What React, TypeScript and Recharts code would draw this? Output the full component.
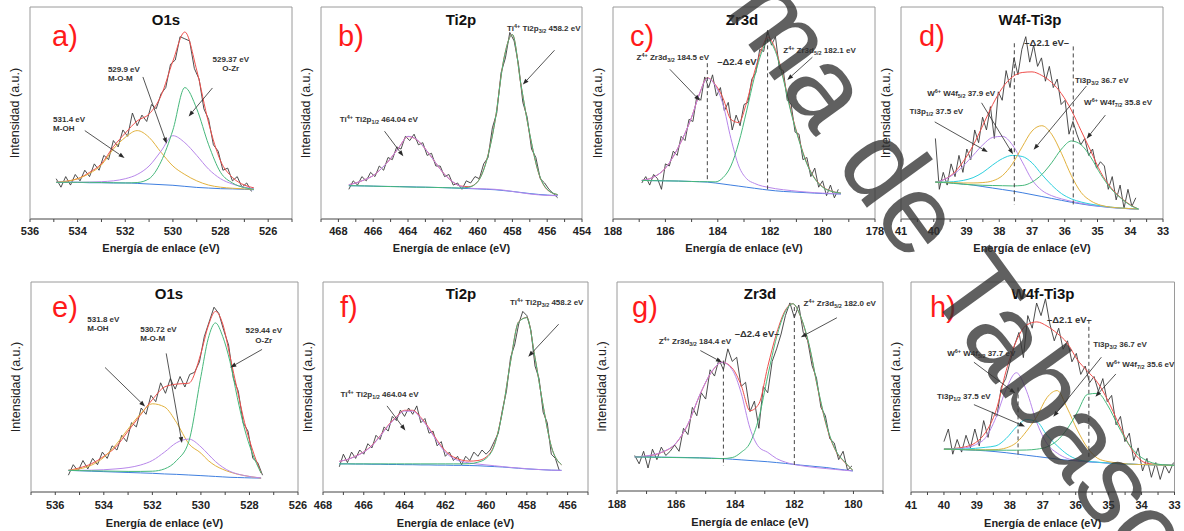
import React from "react";
import { LineChart, Line, XAxis, YAxis, ReferenceLine, ReferenceDot } from "recharts";

// Eight XPS panels (a–h): raw scan (noisy black), fitted envelope (red),
// Shirley-type background (blue) and the individual component peaks.
// Intensity is in arbitrary units, expressed as % of the plot height.

const FONT = "Arial, 'Liberation Sans', Helvetica, sans-serif";

const COLORS = {
  raw: "#3a3a3a",
  fit: "#ef4f4c",
  bg: "#3f7fe0",
  green: "#46b87b",
  purple: "#b887ea",
  orange: "#e2b23e",
  cyan: "#2dd0de",
} as const;

// ---------- a) O1s ----------
const A_E = [534.9, 534, 533.5, 533, 532.5, 532, 531.5, 531, 530.5, 530, 529.5, 529, 528.5, 528, 527.5, 527, 526.6];
const A_BG = [17.3, 17.3, 17.1, 17.1, 17.0, 17.0, 16.8, 16.5, 16.2, 15.9, 15.4, 14.9, 14.6, 14.3, 14.2, 14.0, 13.8];
const A_MOH = [17.3, 19, 21.5, 25.5, 33, 38.5, 41.7, 38.5, 31.5, 25, 21, 18, 16, 15, 14.5, 14.2, 14];
const A_MOM = [17.3, 17.3, 17.4, 17.6, 18, 19, 21, 25, 32, 39.3, 36, 30, 23.5, 19, 16.5, 15, 14.3];
const A_OZR = [17.3, 17.3, 17.3, 17.2, 17.1, 17.0, 17.2, 19, 27, 42, 62, 52, 35, 22, 17, 14.8, 14];
const A_FIT = [17.3, 19, 22, 26.1, 34.1, 40.5, 46.3, 49.5, 58.1, 74.5, 88.2, 70.2, 45.3, 27.4, 19.6, 16, 14.7];
const A_RAW_START = 534.9;
const A_RAW_STEP = 0.2;
const A_RAW = [19, 15, 20, 16, 21, 18, 23, 20, 26, 23, 30, 28, 37, 34, 42, 39, 50, 44, 49, 46, 54, 52, 59, 62, 73, 75, 86, 85, 84, 71, 66, 52, 47, 35, 32, 23, 24, 18, 20, 15, 17, 13];

// ---------- b) Ti2p ----------
const B_E = [467.4, 467, 466.5, 466, 465.5, 465, 464.5, 464, 463.5, 463, 462.5, 462, 461.5, 461, 460.5, 460, 459.5, 459, 458.5, 458, 457.5, 457, 456.5, 456, 455.4];
const B_BG = [15.7, 15.65, 15.6, 15.5, 15.4, 15.35, 15.3, 15.2, 15.1, 15.0, 14.9, 14.8, 14.65, 14.5, 14.35, 14.2, 14.0, 13.8, 13.4, 13.0, 12.5, 12.0, 11.6, 11.3, 11.0];
const B_P12 = [16.2, 17, 18.5, 20.5, 24, 28.5, 34, 39, 37.5, 33, 27.5, 22, 18, 15.5, 14.6, 14.3, 14.2, 14.0, 13.6, 13.0, 12.4, 11.8, 11.4, 11.1, 11];
const B_P32 = [15.7, 15.7, 15.6, 15.5, 15.4, 15.3, 15.2, 15.1, 15.0, 15.0, 14.9, 14.8, 14.7, 14.6, 15, 17.5, 27, 46, 75, 87, 63, 40, 22, 14, 11.5];
const B_FIT = [16.2, 17, 18.5, 20.5, 24, 28.5, 34, 38.9, 37.4, 33, 27.5, 22, 18, 15.6, 15.25, 17.6, 27.2, 46.2, 75.2, 87, 62.9, 39.8, 21.8, 13.8, 11.5];
const B_RAW_START = 467.4;
const B_RAW_STEP = 0.25;
const B_RAW = [14, 18, 16, 20, 18, 22, 20, 25, 23, 29, 28, 34, 33, 39, 37, 40, 35, 36, 30, 31, 25, 25, 20, 21, 16, 17, 14, 18, 17, 20, 19, 26, 29, 43, 50, 69, 76, 88, 84, 73, 55, 48, 33, 29, 19, 17, 14, 12, 10];

// ---------- c) Zr3d ----------
const C_E = [186.9, 186.5, 186, 185.5, 185, 184.7, 184.4, 184.1, 183.8, 183.5, 183.2, 182.9, 182.6, 182.3, 182.1, 181.8, 181.5, 181.2, 180.9, 180.6, 180.3, 180, 179.6, 179.3];
const C_BG = [18.2, 18.1, 18.0, 17.9, 17.7, 17.6, 17.4, 17.0, 16.5, 16.0, 15.5, 15.0, 14.5, 14.0, 13.7, 13.3, 13.0, 12.8, 12.6, 12.4, 12.2, 12.0, 11.9, 11.8];
const C_D32 = [18.2, 19.5, 24, 34, 48, 59, 66.4, 63, 54, 38, 25, 19, 16.8, 15.5, 15, 14.3, 13.8, 13.4, 13, 12.7, 12.4, 12.2, 12, 11.8];
const C_D52 = [18.2, 18.1, 18, 17.9, 17.7, 17.6, 17.6, 17.5, 19.5, 25, 36, 51, 67, 79.5, 84.5, 79, 66, 50, 37, 26, 19, 15, 12.8, 12.2];
const C_FIT = [18.2, 19.5, 24, 34, 48, 59, 66.6, 63.5, 57, 47, 45.5, 55, 69.3, 81, 85.8, 80, 66.8, 50.6, 37.4, 26.3, 19.2, 15.2, 12.9, 12.2];
const C_RAW_START = 186.9;
const C_RAW_STEP = 0.15;
const C_RAW = [17, 20, 16, 21, 19, 14, 26, 25, 32, 30, 39, 37, 47, 46, 58, 56, 67, 62, 68, 58, 62, 51, 55, 42, 49, 44, 54, 55, 66, 69, 80, 79, 89, 82, 86, 71, 70, 56, 54, 41, 40, 28, 29, 20, 24, 15, 18, 11, 16, 10, 14];

// ---------- d) W4f-Ti3p ----------
const D_E = [39.95, 39.7, 39.4, 39.1, 38.8, 38.5, 38.2, 37.9, 37.6, 37.3, 37.0, 36.7, 36.4, 36.1, 35.8, 35.5, 35.2, 34.9, 34.6, 34.3, 34.0, 33.75];
const D_BG = [17.4, 17.3, 17.0, 16.5, 16, 15.3, 14.6, 13.9, 13.2, 12.4, 11.5, 10.6, 9.7, 8.8, 7.9, 7.1, 6.4, 5.9, 5.4, 5.1, 4.8, 4.7];
const D_W52 = [17.4, 18.5, 21, 25, 30, 35, 38.5, 39, 35, 27, 18.5, 13.5, 11, 9.5, 8.3, 7.4, 6.6, 6, 5.5, 5.1, 4.8, 4.7];
const D_TI12 = [17.4, 17.4, 17.6, 18.2, 19.5, 22, 25.5, 28.5, 30, 29.5, 26.5, 21, 16, 12, 9.5, 8, 7, 6.2, 5.6, 5.2, 4.9, 4.7];
const D_TI32 = [17.4, 17.3, 17.1, 17, 17, 17.2, 18, 20.5, 26, 34, 41.5, 44, 40, 31, 20.5, 12.5, 8.5, 6.5, 5.6, 5.2, 4.9, 4.7];
const D_W72 = [17.4, 17.2, 16.8, 16.4, 16.1, 15.9, 15.8, 15.7, 15.6, 15.8, 17.4, 21, 26.5, 33, 36.8, 35, 29, 21, 14.5, 10, 6.5, 4.7];
const D_FIT = [17.4, 18.5, 21.5, 27.1, 34.6, 44.2, 54, 62, 67, 69.1, 69.4, 67.7, 64.4, 59.1, 51.4, 41.6, 31.9, 22, 15, 10.2, 6.7, 4.7];
const D_RAW_START = 39.95;
const D_RAW_STEP = 0.12;
const D_RAW = [38, 14, 22, 16, 26, 20, 30, 22, 33, 28, 42, 36, 48, 42, 53, 38, 60, 56, 70, 62, 76, 68, 80, 86, 74, 82, 72, 76, 65, 72, 62, 66, 54, 56, 40, 46, 40, 35, 38, 30, 33, 24, 27, 25, 14, 20, 9, 16, 5, 14, 6, 10];

// ---------- e) O1s ----------
const E_E = [535.46, 535, 534.5, 534, 533.5, 533, 532.5, 532, 531.5, 531, 530.5, 530, 529.7, 529.4, 529.1, 528.8, 528.5, 528.2, 527.9, 527.52];
const E_BG = [10.3, 10.1, 9.9, 9.7, 9.5, 9.3, 9.1, 8.9, 8.6, 8.4, 8.1, 7.8, 7.6, 7.4, 7.2, 7.0, 6.9, 6.8, 6.7, 6.6];
const E_MOH = [10.3, 11, 12.8, 16.5, 22.5, 30, 37, 42, 40.5, 33, 23, 18.5, 15, 12.5, 10.8, 9.5, 8.5, 7.8, 7.2, 6.6];
const E_MOM = [10.3, 10.3, 10.4, 10.6, 11, 11.6, 12.8, 15, 19, 23.5, 25.2, 21.5, 18, 14.5, 11.8, 9.8, 8.6, 7.8, 7.2, 6.7];
const E_OZR = [10.3, 10.2, 10.1, 10, 9.9, 9.8, 9.8, 9.9, 11, 15, 24, 55, 73, 80.5, 74, 62, 45, 30, 19, 9];
const E_FIT = [10.3, 11.5, 13.5, 17, 21.5, 29, 36.5, 44, 50, 51.4, 51.8, 66, 79, 86, 80, 64.5, 48.5, 33, 21, 9];
const E_RAW_START = 535.46;
const E_RAW_STEP = 0.2;
const E_RAW = [8, 13, 10, 15, 11, 16, 13, 19, 16, 22, 20, 27, 24, 33, 31, 40, 37, 46, 43, 52, 47, 54, 49, 55, 50, 56, 57, 62, 74, 81, 88, 85, 77, 70, 54, 48, 33, 29, 16, 14, 8];

// ---------- f) Ti2p ----------
const F_E = [467.2, 466.8, 466.4, 466, 465.6, 465.2, 464.8, 464.4, 464, 463.6, 463.2, 462.8, 462.4, 462, 461.6, 461.2, 460.8, 460.4, 460, 459.6, 459.2, 458.8, 458.4, 458, 457.6, 457.2, 456.8, 456.3];
const F_BG = [13.4, 13.4, 13.3, 13.3, 13.2, 13.2, 13.1, 13.1, 13.0, 13.0, 12.9, 12.9, 12.8, 12.8, 12.7, 12.7, 12.6, 12.5, 12.3, 12.1, 11.9, 11.6, 11.3, 11, 10.8, 10.6, 10.4, 10.3];
const F_P12 = [14.6, 15.5, 17, 19, 22, 26.5, 31.5, 35.5, 38.5, 38.5, 35, 30, 24, 19, 16, 14.5, 13.8, 13.3, 12.9, 12.5, 12.1, 11.7, 11.4, 11.1, 10.8, 10.6, 10.4, 10.3];
const F_P32 = [13.4, 13.4, 13.4, 13.4, 13.4, 13.4, 13.4, 13.4, 13.4, 13.4, 13.4, 13.4, 13.4, 13.4, 13.4, 13.4, 13.5, 14.2, 16, 22, 38, 62, 81, 83, 64, 41, 21.7, 13];
const F_FIT = [14.6, 15.5, 17.1, 19.1, 22.2, 26.7, 31.8, 35.8, 38.9, 38.9, 35.5, 30.5, 24.6, 19.6, 16.7, 15.2, 14.7, 15, 16.6, 22.4, 38.2, 62.1, 81.1, 83.1, 64, 41, 21.7, 13];
const F_RAW_START = 467.2;
const F_RAW_STEP = 0.2;
const F_RAW = [12, 18, 14, 19, 16, 20, 18, 23, 21, 27, 25, 31, 29, 36, 34, 39, 36, 40, 37, 41, 33, 35, 28, 29, 22, 24, 17, 19, 15, 17, 13, 17, 15, 19, 17, 20, 18, 20, 24, 28, 39, 48, 64, 70, 80, 86, 84, 77, 60, 54, 38, 33, 18, 16, 10];

// ---------- g) Zr3d ----------
const G_E = [187.4, 187, 186.5, 186, 185.6, 185.2, 184.8, 184.45, 184.1, 183.8, 183.5, 183.2, 182.9, 182.6, 182.3, 182.05, 181.8, 181.5, 181.2, 180.9, 180.6, 180.3, 180.02];
const G_BG = [16.3, 16.3, 16.2, 16.1, 16, 15.9, 15.7, 15.5, 15.2, 14.9, 14.6, 14.3, 14, 13.6, 13.2, 12.8, 12.4, 12, 11.6, 11.2, 10.6, 10.1, 9.6];
const G_D32 = [16.3, 16.8, 18.5, 23, 32, 46, 57, 61.6, 58, 47, 30, 21, 18.5, 15.5, 13.8, 12.8, 12.2, 11.6, 11.1, 10.7, 10.3, 9.9, 9.6];
const G_D52 = [16.3, 16.2, 16.1, 16, 15.9, 15.8, 15.6, 15.5, 16, 18.5, 23, 35, 55, 73.6, 86, 89.6, 84, 70, 49, 31, 19.5, 14, 9.9];
const G_FIT = [16.3, 16.7, 18.4, 22.9, 31.9, 45.9, 56.9, 61.6, 58.8, 50.6, 38.4, 41.7, 59.5, 75.5, 86.6, 89.6, 83.8, 69.6, 48.5, 30.5, 19.2, 13.8, 9.9];
const G_RAW_START = 187.4;
const G_RAW_STEP = 0.15;
const G_RAW = [17, 13, 19, 11, 20, 15, 21, 17, 19, 22, 19, 30, 27, 40, 36, 47, 44, 58, 55, 63, 58, 68, 62, 64, 50, 52, 38, 43, 30, 50, 47, 62, 68, 75, 84, 90, 83, 89, 76, 72, 60, 54, 40, 36, 25, 23, 15, 19, 10, 12];

// ---------- h) W4f-Ti3p ----------
const H_E = [40.0, 39.66, 39.35, 39.04, 38.73, 38.42, 38.11, 37.8, 37.49, 37.18, 36.87, 36.56, 36.26, 35.95, 35.64, 35.33, 35.02, 34.71, 34.4, 34.09, 33.78, 33.37, 33.0];
const H_BG = [20.4, 20.3, 20.1, 19.9, 19.6, 19.2, 18.7, 18.1, 17.5, 16.9, 16.3, 15.7, 15.2, 14.8, 14.4, 14.1, 13.8, 13.5, 13.3, 13.1, 13, 12.8, 12.7];
const H_W52 = [20.4, 20.5, 21, 22.5, 26, 35.5, 49, 56.8, 48, 33, 23, 18.5, 16, 14.9, 14.4, 14.1, 13.8, 13.5, 13.3, 13.1, 13, 12.8, 12.7];
const H_TI12 = [20.4, 20.4, 20.5, 20.8, 21.3, 22, 25.5, 31, 34.5, 33.5, 27, 22, 18, 15.5, 14.6, 14.2, 13.8, 13.5, 13.3, 13.1, 13, 12.8, 12.7];
const H_TI32 = [20.4, 20.3, 20.2, 20.1, 20.1, 20.2, 21, 23.5, 29, 36, 45, 48.3, 40, 29.5, 21, 16, 14.5, 13.8, 13.3, 13.1, 13, 12.8, 12.7];
const H_W72 = [20.4, 20.3, 20.1, 20, 19.9, 19.9, 19.9, 19.9, 20, 20.4, 21.5, 24.5, 30, 38, 46.5, 47, 41, 31.5, 23, 17.5, 14.5, 13, 12.7];
const H_FIT = [20.4, 20.8, 21.5, 23.5, 28.5, 38.7, 57.8, 72, 79.5, 81, 79, 75.5, 71, 63, 57.5, 52, 43.5, 33, 23, 16, 13.5, 13, 12.7];
const H_RAW_START = 40.0;
const H_RAW_STEP = 0.134;
const H_RAW = [24, 30, 18, 25, 19, 27, 21, 30, 22, 34, 26, 38, 36, 50, 54, 62, 70, 76, 64, 84, 78, 90, 84, 92, 80, 72, 78, 68, 72, 62, 66, 56, 60, 52, 55, 48, 54, 43, 46, 32, 36, 24, 28, 15, 21, 10, 16, 7, 14, 6, 13, 9, 14];

// ---------- axis ticks ----------
const TICKS_O1S_TOP = [536, 535, 534, 533, 532, 531, 530, 529, 528, 527, 526, 525];
const TICKS_TI2P_TOP = [469, 468, 467, 466, 465, 464, 463, 462, 461, 460, 459, 458, 457, 456, 455, 454];
const TICKS_ZR3D_TOP = [188, 187, 186, 185, 184, 183, 182, 181, 180, 179, 178];
const TICKS_W4F = [41, 40.5, 40, 39.5, 39, 38.5, 38, 37.5, 37, 36.5, 36, 35.5, 35, 34.5, 34, 33.5, 33];
const TICKS_O1S_BOT = [537, 536, 535, 534, 533, 532, 531, 530, 529, 528, 527, 526];
const TICKS_TI2P_BOT = [468, 467, 466, 465, 464, 463, 462, 461, 460, 459, 458, 457, 456, 455];
const TICKS_ZR3D_BOT = [188, 187, 186, 185, 184, 183, 182, 181, 180, 179];

type Pt = { e: number; y: number };
type Curve = { name: string; color: string; data: Pt[]; raw?: boolean };
type Note = { e: number; y: number; lines: string[]; anchor?: "start" | "middle"; size?: number };
type Arrow = { from: [number, number]; to: [number, number] };
type Dash = { e: number; top: number; bottom: number };
type Panel = {
  id: string;
  letter: string;
  title: string;
  row: 1 | 2;
  plot: { x: number; y: number; w: number; h: number };
  domain: [number, number];
  ticks: number[];
  every: number;
  titleX: number;
  letterX: number;
  curves: Curve[];
  notes: Note[];
  arrows: Arrow[];
  dashes: Dash[];
};

const pair = (es: number[], ys: number[]): Pt[] => es.map((e, i) => ({ e, y: ys[i] }));
const scan = (start: number, step: number, ys: number[]): Pt[] =>
  ys.map((y, i) => ({ e: Math.round((start - i * step) * 1000) / 1000, y }));

const PANELS: Panel[] = [
  {
    id: "a", letter: "a)", title: "O1s", row: 1,
    plot: { x: 29.6, y: 7, w: 262, h: 212 }, domain: [525, 536], ticks: TICKS_O1S_TOP, every: 2,
    titleX: 166, letterX: 52,
    curves: [
      { name: "raw", color: COLORS.raw, data: scan(A_RAW_START, A_RAW_STEP, A_RAW), raw: true },
      { name: "fit", color: COLORS.fit, data: pair(A_E, A_FIT) },
      { name: "bg", color: COLORS.bg, data: pair(A_E, A_BG) },
      { name: "M-OH", color: COLORS.orange, data: pair(A_E, A_MOH) },
      { name: "M-O-M", color: COLORS.purple, data: pair(A_E, A_MOM) },
      { name: "O-Zr", color: COLORS.green, data: pair(A_E, A_OZR) },
    ],
    notes: [
      { e: 535.03, y: 47.3, lines: ["531.4 eV", "M-OH"] },
      { e: 532.73, y: 70.8, lines: ["529.9 eV", "M-O-M"] },
      { e: 527.57, y: 75.5, lines: ["529.37 eV", "O-Zr"], anchor: "middle" },
    ],
    arrows: [
      { from: [533.7, 41.7], to: [532.03, 28.8] },
      { from: [531.26, 67], to: [530.26, 35.5] },
      { from: [528.34, 61.8], to: [529.34, 48.4] },
    ],
    dashes: [],
  },
  {
    id: "b", letter: "b)", title: "Ti2p", row: 1,
    plot: { x: 321, y: 7, w: 261, h: 212 }, domain: [454, 469], ticks: TICKS_TI2P_TOP, every: 2,
    titleX: 461, letterX: 338,
    curves: [
      { name: "raw", color: COLORS.raw, data: scan(B_RAW_START, B_RAW_STEP, B_RAW), raw: true },
      { name: "fit", color: COLORS.fit, data: pair(B_E, B_FIT) },
      { name: "bg", color: COLORS.bg, data: pair(B_E, B_BG) },
      { name: "2p1/2", color: COLORS.purple, data: pair(B_E, B_P12) },
      { name: "2p3/2", color: COLORS.green, data: pair(B_E, B_P32) },
    ],
    notes: [
      { e: 467.92, y: 47.2, lines: ["Ti^{4+} Ti2p_{1/2}  464.04 eV"] },
      { e: 458.31, y: 90.1, lines: ["Ti^{4+} Ti2p_{3/2}  458.2 eV"] },
    ],
    arrows: [
      { from: [465.35, 41.4], to: [464.27, 29.6] },
      { from: [455.58, 79.6], to: [457.4, 63.4] },
    ],
    dashes: [],
  },
  {
    id: "c", letter: "c)", title: "Zr3d", row: 1,
    plot: { x: 613, y: 7, w: 262, h: 212 }, domain: [178, 188], ticks: TICKS_ZR3D_TOP, every: 2,
    titleX: 742, letterX: 630,
    curves: [
      { name: "raw", color: COLORS.raw, data: scan(C_RAW_START, C_RAW_STEP, C_RAW), raw: true },
      { name: "fit", color: COLORS.fit, data: pair(C_E, C_FIT) },
      { name: "bg", color: COLORS.bg, data: pair(C_E, C_BG) },
      { name: "3d3/2", color: COLORS.purple, data: pair(C_E, C_D32) },
      { name: "3d5/2", color: COLORS.green, data: pair(C_E, C_D52) },
    ],
    notes: [
      { e: 187.1, y: 76.6, lines: ["Z^{4+} Zr3d_{3/2} 184.5 eV"] },
      { e: 181.5, y: 79.5, lines: ["Z^{4+} Zr3d_{5/2} 182.1 eV"] },
      { e: 183.27, y: 74.2, lines: ["–Δ2.4 eV"], anchor: "middle", size: 9.5 },
    ],
    arrows: [
      { from: [185.83, 70.6], to: [184.68, 55.8] },
      { from: [180.39, 76.3], to: [181.35, 65.6] },
    ],
    dashes: [
      { e: 184.4, top: 73.5, bottom: 17.4 },
      { e: 182.1, top: 88.5, bottom: 13.4 },
    ],
  },
  {
    id: "d", letter: "d)", title: "W4f-Ti3p", row: 1,
    plot: { x: 901, y: 7, w: 262, h: 212 }, domain: [33, 41], ticks: TICKS_W4F, every: 1,
    titleX: 1030, letterX: 919,
    curves: [
      { name: "raw", color: COLORS.raw, data: scan(D_RAW_START, D_RAW_STEP, D_RAW), raw: true },
      { name: "fit", color: COLORS.fit, data: pair(D_E, D_FIT) },
      { name: "bg", color: COLORS.bg, data: pair(D_E, D_BG) },
      { name: "W4f5/2", color: COLORS.purple, data: pair(D_E, D_W52) },
      { name: "Ti3p1/2", color: COLORS.cyan, data: pair(D_E, D_TI12) },
      { name: "Ti3p3/2", color: COLORS.orange, data: pair(D_E, D_TI32) },
      { name: "W4f7/2", color: COLORS.green, data: pair(D_E, D_W72) },
    ],
    notes: [
      { e: 40.2, y: 59.6, lines: ["W^{6+} W4f_{5/2} 37.9 eV"] },
      { e: 40.74, y: 50.9, lines: ["Ti3p_{1/2} 37.5 eV"] },
      { e: 35.69, y: 65.6, lines: ["Ti3p_{3/2} 36.7 eV"] },
      { e: 35.41, y: 55.3, lines: ["W^{6+} W4f_{7/2} 35.8 eV"] },
      { e: 36.55, y: 82.9, lines: ["–Δ2.1 eV–"], anchor: "middle", size: 9.5 },
    ],
    arrows: [
      { from: [38.54, 54.8], to: [37.58, 30.5] },
      { from: [39.97, 45.8], to: [38.35, 31.6] },
      { from: [35.34, 62.7], to: [36.95, 32.7] },
      { from: [34.76, 49], to: [35.33, 37.9] },
    ],
    dashes: [
      { e: 37.54, top: 82.9, bottom: 6.8 },
      { e: 35.74, top: 81.4, bottom: 6.8 },
    ],
  },
  {
    id: "e", letter: "e)", title: "O1s", row: 2,
    plot: { x: 31, y: 282, w: 267, h: 210 }, domain: [526, 537], ticks: TICKS_O1S_BOT, every: 2,
    titleX: 169, letterX: 52,
    curves: [
      { name: "raw", color: COLORS.raw, data: scan(E_RAW_START, E_RAW_STEP, E_RAW), raw: true },
      { name: "fit", color: COLORS.fit, data: pair(E_E, E_FIT) },
      { name: "bg", color: COLORS.bg, data: pair(E_E, E_BG) },
      { name: "M-OH", color: COLORS.orange, data: pair(E_E, E_MOH) },
      { name: "M-O-M", color: COLORS.purple, data: pair(E_E, E_MOM) },
      { name: "O-Zr", color: COLORS.green, data: pair(E_E, E_OZR) },
    ],
    notes: [
      { e: 534.68, y: 82.6, lines: ["531.8 eV", "M-OH"] },
      { e: 532.5, y: 77.8, lines: ["530.72 eV", "M-O-M"] },
      { e: 527.41, y: 77.1, lines: ["529.44 eV", "O-Zr"], anchor: "middle" },
    ],
    arrows: [
      { from: [533.95, 59.3], to: [532.3, 40.7] },
      { from: [531.43, 66], to: [530.78, 23.3] },
      { from: [527.48, 67.9], to: [528.79, 59.3] },
    ],
    dashes: [],
  },
  {
    id: "f", letter: "f)", title: "Ti2p", row: 2,
    plot: { x: 323, y: 282, w: 265, h: 210 }, domain: [455, 468], ticks: TICKS_TI2P_BOT, every: 2,
    titleX: 461, letterX: 340,
    curves: [
      { name: "raw", color: COLORS.raw, data: scan(F_RAW_START, F_RAW_STEP, F_RAW), raw: true },
      { name: "fit", color: COLORS.fit, data: pair(F_E, F_FIT) },
      { name: "bg", color: COLORS.bg, data: pair(F_E, F_BG) },
      { name: "2p1/2", color: COLORS.purple, data: pair(F_E, F_P12) },
      { name: "2p3/2", color: COLORS.green, data: pair(F_E, F_P32) },
    ],
    notes: [
      { e: 458.83, y: 90.5, lines: ["Ti^{4+} Ti2p_{3/2}  458.2 eV"] },
      { e: 467.14, y: 46.7, lines: ["Ti^{4+} Ti2p_{1/2}  464.04 eV"] },
    ],
    arrows: [
      { from: [456.44, 79.9], to: [457.93, 64.4] },
      { from: [464.86, 41], to: [463.96, 29.3] },
    ],
    dashes: [],
  },
  {
    id: "g", letter: "g)", title: "Zr3d", row: 2,
    plot: { x: 617, y: 282, w: 266, h: 209 }, domain: [179, 188], ticks: TICKS_ZR3D_BOT, every: 2,
    titleX: 760, letterX: 632,
    curves: [
      { name: "raw", color: COLORS.raw, data: scan(G_RAW_START, G_RAW_STEP, G_RAW), raw: true },
      { name: "fit", color: COLORS.fit, data: pair(G_E, G_FIT) },
      { name: "bg", color: COLORS.bg, data: pair(G_E, G_BG) },
      { name: "3d3/2", color: COLORS.purple, data: pair(G_E, G_D32) },
      { name: "3d5/2", color: COLORS.green, data: pair(G_E, G_D52) },
    ],
    notes: [
      { e: 186.59, y: 72, lines: ["Z^{4+} Zr3d_{3/2} 184.4 eV"] },
      { e: 181.69, y: 89.9, lines: ["Z^{4+} Zr3d_{5/2} 182.0 eV"] },
      { e: 183.26, y: 74.9, lines: ["–Δ2.4 eV–"], anchor: "middle", size: 9.5 },
    ],
    arrows: [
      { from: [185.18, 67.2], to: [184.45, 61.6] },
      { from: [180.56, 82.9], to: [181.78, 73.6] },
    ],
    dashes: [
      { e: 184.4, top: 62.4, bottom: 12 },
      { e: 182.0, top: 88, bottom: 12.5 },
    ],
  },
  {
    id: "h", letter: "h)", title: "W4f-Ti3p", row: 2,
    plot: { x: 911, y: 282, w: 263.5, h: 210 }, domain: [33, 41], ticks: TICKS_W4F, every: 1,
    titleX: 1043, letterX: 930,
    curves: [
      { name: "raw", color: COLORS.raw, data: scan(H_RAW_START, H_RAW_STEP, H_RAW), raw: true },
      { name: "fit", color: COLORS.fit, data: pair(H_E, H_FIT) },
      { name: "bg", color: COLORS.bg, data: pair(H_E, H_BG) },
      { name: "W4f5/2", color: COLORS.purple, data: pair(H_E, H_W52) },
      { name: "Ti3p1/2", color: COLORS.cyan, data: pair(H_E, H_TI12) },
      { name: "Ti3p3/2", color: COLORS.orange, data: pair(H_E, H_TI32) },
      { name: "W4f7/2", color: COLORS.green, data: pair(H_E, H_W72) },
    ],
    notes: [
      { e: 39.9, y: 66.1, lines: ["W^{6+} W4f_{5/2} 37.7 eV"] },
      { e: 40.21, y: 45.9, lines: ["Ti3p_{1/2} 37.5 eV"] },
      { e: 35.47, y: 70.5, lines: ["Ti3p_{3/2} 36.7 eV"] },
      { e: 35.07, y: 61, lines: ["W^{6+} W4f_{7/2} 35.6 eV"] },
      { e: 36.19, y: 81.7, lines: ["–Δ2.1 eV–"], anchor: "middle", size: 9.5 },
    ],
    arrows: [
      { from: [39.09, 61.8], to: [37.83, 47] },
      { from: [39.09, 41.6], to: [37.54, 31.2] },
      { from: [35.22, 64.2], to: [36.68, 35.8] },
      { from: [34.78, 56.2], to: [35.4, 45.4] },
    ],
    dashes: [
      { e: 37.75, top: 49.8, bottom: 16.4 },
      { e: 35.6, top: 82, bottom: 16.4 },
    ],
  },
];

// "Ti^{4+} Ti2p_{3/2}" -> tspans with raised / lowered small text
function richText(s: string, size: number) {
  const parts = s.split(/(\^\{[^}]*\}|_\{[^}]*\})/).filter((p) => p.length > 0);
  let shift = 0;
  return parts.map((part, i) => {
    let target = 0;
    let txt = part;
    let fs: number | undefined;
    if (part.startsWith("^{")) {
      target = -3;
      txt = part.slice(2, -1);
      fs = size * 0.68;
    } else if (part.startsWith("_{")) {
      target = 2;
      txt = part.slice(2, -1);
      fs = size * 0.68;
    }
    const dy = target - shift;
    shift = target;
    return (
      <tspan key={i} dy={dy} fontSize={fs}>
        {txt}
      </tspan>
    );
  });
}

function ArrowShape(props: any) {
  const { x1, y1, x2, y2 } = props;
  const dx = x2 - x1;
  const dy = y2 - y1;
  const len = Math.hypot(dx, dy) || 1;
  const ux = dx / len;
  const uy = dy / len;
  const L = 6;
  const W = 2.2;
  const bx = x2 - ux * L;
  const by = y2 - uy * L;
  return (
    <g>
      <line x1={x1} y1={y1} x2={bx} y2={by} stroke="#2a2a2a" strokeWidth={0.8} />
      <polygon
        points={`${x2},${y2} ${bx - uy * W},${by + ux * W} ${bx + uy * W},${by - ux * W}`}
        fill="#2a2a2a"
      />
    </g>
  );
}

const noteShape = (n: Note) => (props: any) => {
  const size = n.size ?? 8;
  return (
    <g>
      {n.lines.map((line, i) => (
        <text
          key={i}
          x={props.cx}
          y={props.cy + 3 + i * 9.5}
          fontSize={size}
          fontWeight={700}
          fill="#333"
          fontFamily={FONT}
          textAnchor={n.anchor ?? "start"}
        >
          {richText(line, size)}
        </text>
      ))}
    </g>
  );
};

const YW = 30;
const XH = 38;
const RM = 14;
const FRAME = "#9a9a9a";

function XpsPanel({ p }: { p: Panel }) {
  const width = p.plot.w + YW + RM;
  const height = p.plot.h + XH + 1;
  const [lo, hi] = p.domain;
  const fmt = (v: number) =>
    Number.isInteger(v) && Math.round(v) % p.every === 0 ? String(v) : "";
  return (
    <div style={{ position: "absolute", left: p.plot.x - YW, top: p.plot.y - 1, width, height }}>
      <LineChart width={width} height={height} margin={{ top: 1, right: RM, bottom: 0, left: 0 }}>
        <XAxis
          type="number"
          dataKey="e"
          domain={[lo, hi]}
          reversed
          allowDataOverflow
          ticks={p.ticks}
          interval={0}
          tickFormatter={fmt}
          height={XH}
          tickSize={3}
          tickMargin={p.row === 1 ? 5 : 6}
          stroke="#444"
          tick={{ fontSize: 11, fontWeight: 700, fill: "#222", fontFamily: FONT }}
          label={{
            value: "Energía de enlace (eV)",
            position: "insideBottom",
            offset: p.row === 1 ? 5 : 3,
            fontSize: 11,
            fontWeight: 700,
            fill: "#222",
            fontFamily: FONT,
          }}
        />
        <YAxis
          type="number"
          domain={[0, 100]}
          allowDataOverflow
          tick={false}
          tickLine={false}
          width={YW}
          stroke={FRAME}
          label={{
            value: "Intensidad (a.u.)",
            angle: -90,
            position: "center",
            fontSize: 12.5,
            fill: "#222",
            fontFamily: FONT,
          }}
        />
        <ReferenceLine y={100} stroke={FRAME} />
        <ReferenceLine x={lo} stroke={FRAME} />
        {p.curves.map((c) => (
          <Line
            key={c.name}
            data={c.data}
            dataKey="y"
            type={c.raw ? "linear" : "monotone"}
            stroke={c.color}
            strokeWidth={c.raw ? 0.9 : 1}
            dot={false}
            activeDot={false}
            isAnimationActive={false}
          />
        ))}
        {p.dashes.map((d, i) => (
          <ReferenceLine
            key={`d${i}`}
            segment={[{ x: d.e, y: d.top }, { x: d.e, y: d.bottom }]}
            stroke="#444"
            strokeDasharray="4 3"
          />
        ))}
        {p.arrows.map((a, i) => (
          <ReferenceLine
            key={`a${i}`}
            segment={[{ x: a.from[0], y: a.from[1] }, { x: a.to[0], y: a.to[1] }]}
            shape={ArrowShape}
          />
        ))}
        {p.notes.map((n, i) => (
          <ReferenceDot key={`n${i}`} x={n.e} y={n.y} r={0} shape={noteShape(n)} />
        ))}
      </LineChart>
    </div>
  );
}

export default function App() {
  return (
    <div
      style={{
        position: "absolute",
        left: 0,
        top: 0,
        width: 1184,
        height: 531,
        background: "#fff",
        overflow: "hidden",
        fontFamily: FONT,
      }}
    >
      {PANELS.map((p) => (
        <XpsPanel key={p.id} p={p} />
      ))}
      <svg
        width={1184}
        height={531}
        style={{ position: "absolute", left: 0, top: 0, pointerEvents: "none" }}
      >
        {PANELS.map((p) => (
          <g key={p.id}>
            <text
              x={p.titleX}
              y={p.row === 1 ? 24.5 : 298.5}
              textAnchor="middle"
              fontSize={15}
              fontWeight={700}
              fill="#111"
              fontFamily={FONT}
            >
              {p.title}
            </text>
            <text
              x={p.letterX}
              y={p.row === 1 ? 46 : 317}
              fontSize={29}
              fill="#ff1a1a"
              fontFamily={FONT}
            >
              {p.letter}
            </text>
          </g>
        ))}
        {/* watermark running diagonally across the right half */}
        <text
          x={723.5}
          y={10.4}
          transform="rotate(54 723.5 10.4)"
          fontSize={113}
          fill="#333"
          fillOpacity={0.78}
          fontFamily={FONT}
        >
          ma de Tabasco
        </text>
      </svg>
    </div>
  );
}
